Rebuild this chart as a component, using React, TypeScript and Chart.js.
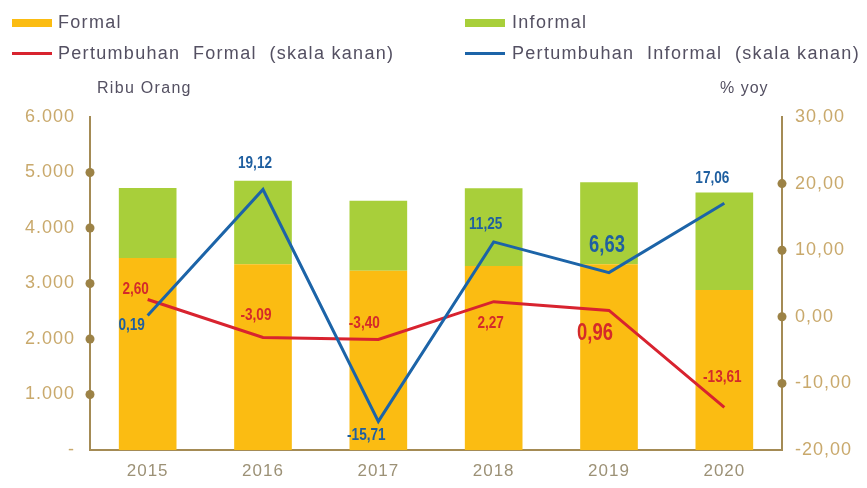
import React, { useEffect, useRef } from "react";
import { Chart, registerables } from "chart.js";

Chart.register(...registerables);

const years = ["2015", "2016", "2017", "2018", "2019", "2020"];
const formal = [3460, 3345, 3230, 3315, 3345, 2885];
const informal = [1260, 1505, 1260, 1400, 1480, 1755];
const growthFormal = [2.6, -3.09, -3.4, 2.27, 0.96, -13.61];
const growthInformal = [0.19, 19.12, -15.71, 11.25, 6.63, 17.06];

// label placement (offset from point, px) and font size
const formalLabelOffset = [[-12, -10], [-7, -22], [-14, -16], [-3, 22], [-14, 23], [-2, -30]];
const formalLabelSize = [17, 17, 17, 17, 23, 17];
const informalLabelOffset = [[-16, 10], [-8, -26], [-12, 14], [-8, -18], [-2, -27], [-12, -25]];
const informalLabelSize = [17, 17, 17, 17, 23, 17];

const AXIS = "#a48b55";
const TICK = "#c9a96c";
const YEAR = "#9c9176";
const YELLOW = "#fbbc12";
const GREEN = "#a8cf3a";
const RED = "#d8232f";
const BLUE = "#1c64a8";
const LEGEND_TEXT = "#545062";

const fmtComma = (v: number) => v.toFixed(2).replace(".", ",");

export default function App() {
  const ref = useRef<HTMLCanvasElement | null>(null);

  useEffect(() => {
    if (!ref.current) return;
    const spacing = {
      id: "spacing",
      beforeLayout(chart: any) {
        chart.ctx.letterSpacing = "1px";
      },
      beforeDraw(chart: any) {
        chart.ctx.letterSpacing = "1px";
      },
    };
    const dots = {
      id: "dots",
      afterDraw(chart: any) {
        const ctx = chart.ctx;
        ctx.save();
        ctx.fillStyle = "#9c8246";
        const y = chart.scales.y;
        const y1 = chart.scales.y1;
        const area = chart.chartArea;
        y.ticks.forEach((t: any) => {
          if (t.value <= 0 || t.value >= 6000) return;
          ctx.beginPath();
          ctx.arc(area.left, y.getPixelForValue(t.value), 4.5, 0, Math.PI * 2);
          ctx.fill();
        });
        y1.ticks.forEach((t: any) => {
          if (t.value <= -20 || t.value >= 30) return;
          ctx.beginPath();
          ctx.arc(area.right, y1.getPixelForValue(t.value), 4.5, 0, Math.PI * 2);
          ctx.fill();
        });
        ctx.restore();
      },
    };
    const labels = {
      id: "labels",
      afterDatasetsDraw(chart: any) {
        const ctx = chart.ctx;
        const draw = (di: number, vals: number[], offs: number[][], sizes: number[], color: string) => {
          const meta = chart.getDatasetMeta(di);
          meta.data.forEach((pt: any, i: number) => {
            ctx.save();
            ctx.letterSpacing = "0px";
            ctx.textAlign = "center";
            ctx.textBaseline = "middle";
            ctx.font = `bold ${sizes[i]}px 'Liberation Sans', Arial, sans-serif`;
            ctx.fillStyle = color;
            ctx.translate(pt.x + offs[i][0], pt.y + offs[i][1]);
            ctx.scale(0.8, 1);
            ctx.fillText(fmtComma(vals[i]), 0, 0);
            ctx.restore();
          });
        };
        draw(2, growthFormal, formalLabelOffset, formalLabelSize, "#d42a2a");
        draw(3, growthInformal, informalLabelOffset, informalLabelSize, "#1f5fa0");
      },
    };

    const chart = new Chart(ref.current, {
      type: "bar",
      data: {
        labels: years,
        datasets: [
          { type: "bar", label: "Formal", data: formal, backgroundColor: YELLOW, stack: "s", yAxisID: "y", order: 3, barPercentage: 0.5, categoryPercentage: 1 } as any,
          { type: "bar", label: "Informal", data: informal, backgroundColor: GREEN, stack: "s", yAxisID: "y", order: 3, barPercentage: 0.5, categoryPercentage: 1 } as any,
          { type: "line", label: "Pertumbuhan Formal (skala kanan)", data: growthFormal, borderColor: RED, backgroundColor: RED, borderWidth: 3, pointRadius: 0, yAxisID: "y1", order: 1, tension: 0 } as any,
          { type: "line", label: "Pertumbuhan Informal (skala kanan)", data: growthInformal, borderColor: BLUE, backgroundColor: BLUE, borderWidth: 3, pointRadius: 0, yAxisID: "y1", order: 0, tension: 0 } as any,
        ],
      },
      options: {
        animation: false,
        responsive: false,
        maintainAspectRatio: false,
        layout: { padding: { top: 117, bottom: 0, left: 0, right: 0 } },
        plugins: { legend: { display: false }, tooltip: { enabled: false } },
        scales: {
          x: {
            stacked: true,
            grid: { display: false, drawTicks: false },
            border: { display: true, color: AXIS, width: 2 },
            ticks: { color: YEAR, padding: 11, font: { family: "'Liberation Sans', Arial, sans-serif", size: 17 } },
            afterFit: (s: any) => { s.height = 38; },
          },
          y: {
            stacked: true,
            position: "left",
            min: 0,
            max: 6000,
            grid: { display: false, drawTicks: false },
            border: { display: true, color: AXIS, width: 2 },
            ticks: {
              stepSize: 1000,
              color: TICK,
              padding: 15,
              font: { family: "'Liberation Sans', Arial, sans-serif", size: 18 },
              callback: (v: any) => (v === 0 ? "-" : Number(v).toLocaleString("de-DE")),
            },
            afterFit: (s: any) => { s.width = 90; },
          },
          y1: {
            position: "right",
            min: -20,
            max: 30,
            grid: { display: false, drawTicks: false },
            border: { display: true, color: AXIS, width: 2 },
            ticks: {
              stepSize: 10,
              color: TICK,
              padding: 13,
              font: { family: "'Liberation Sans', Arial, sans-serif", size: 18 },
              callback: (v: any) => fmtComma(Number(v)),
            },
            afterFit: (s: any) => { s.width = 85; },
          },
        },
      },
      plugins: [spacing, dots, labels],
    } as any);
    return () => chart.destroy();
  }, []);

  const textStyle: React.CSSProperties = {
    position: "absolute",
    fontFamily: "'Liberation Sans', Arial, sans-serif",
    fontSize: 18,
    letterSpacing: "1.3px",
    color: LEGEND_TEXT,
    whiteSpace: "pre",
    lineHeight: "20px",
  };

  return (
    <div style={{ position: "fixed", left: 0, top: 0, width: 867, height: 488, background: "#fff" }}>
      <canvas ref={ref} width={867} height={488} style={{ position: "absolute", left: 0, top: 0, width: 867, height: 488 }} />
      <div style={{ position: "absolute", left: 12, top: 19, width: 40, height: 8, background: YELLOW }} />
      <div style={{ ...textStyle, left: 58, top: 12 }}>Formal</div>
      <div style={{ position: "absolute", left: 465, top: 19, width: 40, height: 8, background: GREEN }} />
      <div style={{ ...textStyle, left: 512, top: 12 }}>Informal</div>
      <div style={{ position: "absolute", left: 12, top: 52, width: 40, height: 3, background: RED }} />
      <div style={{ ...textStyle, left: 58, top: 43 }}>{"Pertumbuhan  Formal  (skala kanan)"}</div>
      <div style={{ position: "absolute", left: 465, top: 52, width: 40, height: 3, background: BLUE }} />
      <div style={{ ...textStyle, left: 512, top: 43 }}>{"Pertumbuhan  Informal  (skala kanan)"}</div>
      <div style={{ ...textStyle, fontSize: 16, left: 97, top: 78 }}>Ribu Orang</div>
      <div style={{ ...textStyle, fontSize: 16, left: 720, top: 78, letterSpacing: "1px" }}>% yoy</div>
    </div>
  );
}
